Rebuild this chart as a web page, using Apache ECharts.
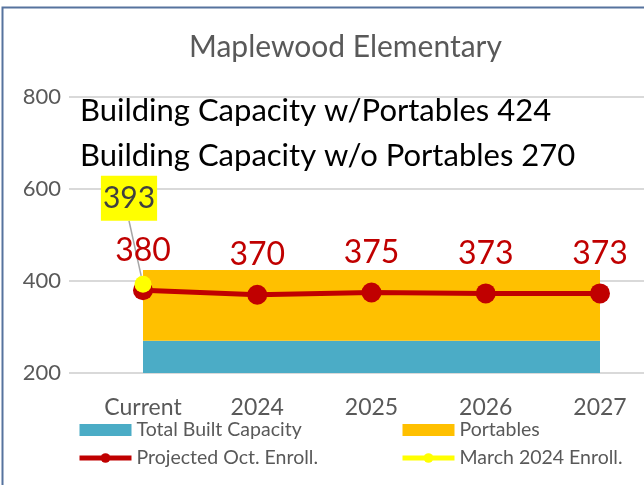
<!DOCTYPE html>
<html>
<head>
<meta charset="utf-8">
<script src="https://cdn.jsdelivr.net/npm/echarts@6/dist/echarts.min.js"></script>
<style>
  html, body { margin: 0; padding: 0; background: #fff; }
  #chart { width: 644px; height: 485px; }
</style>
</head>
<body>
<div id="chart"></div>
<script>
// data
const categories = ['Current', '2024', '2025', '2026', '2027']
const builtCapacity = [270, 270, 270, 270, 270]
const portables = [154, 154, 154, 154, 154]   // 424 - 270
const projected = [380, 370, 375, 373, 373]
const march2024 = [393, null, null, null, null]
const capacityNotes = ['Building Capacity w/Portables 424', 'Building Capacity w/o Portables 270']

const font = 'Lato'
const grey = '#595959'

const chart = echarts.init(document.getElementById('chart'))

const legendBase = {
  orient: 'vertical',
  top: 415,
  itemWidth: 52,
  itemHeight: 12,
  itemGap: 8,
  lineStyle: { width: 5 },
  textStyle: { fontFamily: font, fontSize: 19.5, color: grey }
}

const option = {
  animation: false,
  textStyle: { fontFamily: font },
  title: {
    text: 'Maplewood Elementary',
    left: 184,
    top: 27,
    textStyle: { fontFamily: font, fontSize: 30, fontWeight: 'normal', color: grey }
  },
  legend: [
    Object.assign({}, legendBase, {
      left: 72,
      data: [{ name: 'Total Built Capacity', icon: 'rect' }, 'Projected Oct. Enroll.']
    }),
    Object.assign({}, legendBase, {
      left: 395,
      data: [{ name: 'Portables', icon: 'rect' }, 'March 2024 Enroll.']
    })
  ],
  grid: [
    // gridlines and y labels
    { left: 69, right: 0, top: 97, bottom: 112 },
    // data
    { left: 143, right: 44, top: 97, bottom: 112 }
  ],
  xAxis: [
    { gridIndex: 0, type: 'category', data: categories, show: false },
    {
      gridIndex: 1,
      type: 'category',
      data: categories,
      boundaryGap: false,
      axisLine: { show: false },
      axisTick: { show: false },
      axisLabel: { fontFamily: font, fontSize: 23, color: grey, margin: 23 }
    }
  ],
  yAxis: [
    {
      gridIndex: 0,
      type: 'value',
      min: 200,
      max: 800,
      interval: 200,
      axisLine: { show: false },
      axisTick: { show: false },
      axisLabel: { fontFamily: font, fontSize: 22, color: grey, margin: 8 },
      splitLine: { lineStyle: { color: '#d9d9d9', width: 2 } }
    },
    { gridIndex: 1, type: 'value', min: 200, max: 800, interval: 200, show: false, splitLine: { show: false } }
  ],
  series: [
    {
      name: 'Total Built Capacity',
      type: 'line',
      xAxisIndex: 1,
      yAxisIndex: 1,
      stack: 'cap',
      data: builtCapacity,
      showSymbol: false,
      lineStyle: { width: 0 },
      itemStyle: { color: '#4bacc6' },
      areaStyle: { color: '#4bacc6', opacity: 1 }
    },
    {
      name: 'Portables',
      type: 'line',
      xAxisIndex: 1,
      yAxisIndex: 1,
      stack: 'cap',
      data: portables,
      showSymbol: false,
      lineStyle: { width: 0 },
      itemStyle: { color: '#ffc000' },
      areaStyle: { color: '#ffc000', opacity: 1 }
    },
    {
      name: 'Projected Oct. Enroll.',
      type: 'line',
      xAxisIndex: 1,
      yAxisIndex: 1,
      data: projected,
      symbol: 'circle',
      symbolSize: 20,
      lineStyle: { color: '#c00000', width: 5 },
      itemStyle: { color: '#c00000' },
      label: {
        show: true,
        position: 'top',
        distance: 14,
        fontFamily: font,
        fontSize: 32,
        color: '#c00000'
      }
    },
    {
      name: 'March 2024 Enroll.',
      type: 'line',
      xAxisIndex: 1,
      yAxisIndex: 1,
      data: march2024,
      symbol: 'circle',
      symbolSize: 17,
      lineStyle: { color: '#ffff00', width: 5 },
      itemStyle: { color: '#ffff00' },
      label: {
        show: true,
        position: 'top',
        distance: 5,
        fontFamily: font,
        fontSize: 30,
        color: '#404040',
        backgroundColor: '#ffff00',
        padding: [8, 2, 7, 2]
      },
      labelLayout: { dx: -14, dy: -50 },
      labelLine: { show: true, lineStyle: { color: '#a6a6a6', width: 1.5 } }
    }
  ],
  graphic: [
    {
      type: 'polyline',
      shape: { points: [[2.5, 485], [2.5, 7.5], [644, 7.5]] },
      style: { stroke: '#56739e', lineWidth: 2, fill: null }
    },
    {
      type: 'text',
      left: 80,
      top: 95,
      style: { text: capacityNotes[0], font: '31px Lato', fill: '#000' }
    },
    {
      type: 'text',
      left: 80,
      top: 140,
      style: { text: capacityNotes[1], font: '31px Lato', fill: '#000' }
    }
  ]
}

chart.setOption(option)
</script>
</body>
</html>
